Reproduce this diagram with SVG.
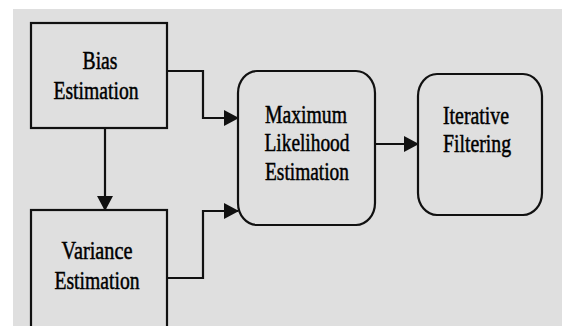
<svg xmlns="http://www.w3.org/2000/svg" width="562" height="326" viewBox="0 0 562 326">
<style>
.box{fill:#dfdfdf;stroke:#111;stroke-width:2.2}
.lbl{font-family:"Liberation Serif","Times New Roman",serif;font-size:25px;fill:#000;stroke:#000;stroke-width:0.5;text-anchor:middle}
.con{fill:none;stroke:#111;stroke-width:2.2}
</style>
<defs>
<marker id="ah" markerUnits="userSpaceOnUse" markerWidth="16" markerHeight="18" refX="14" refY="8" orient="auto">
<path d="M0,0 L15,8 L0,16 Z" fill="#111"/>
</marker>
</defs>
<rect x="0" y="0" width="562" height="326" fill="#ffffff"/>
<rect x="13" y="9" width="549" height="317" fill="#dfdfdf"/>
<g id="connectors">
<path class="con" d="M167,71 H203 V118 H238" marker-end="url(#ah)"/>
<path class="con" d="M167,278 H203 V211 H238" marker-end="url(#ah)"/>
<path class="con" d="M375,144 H418" marker-end="url(#ah)"/>
<path class="con" d="M105,128 V210" marker-end="url(#ah)"/>
</g>
<g id="bias">
<rect class="box" x="31" y="23" width="136" height="105"/>
<text class="lbl" x="100" y="69" textLength="35" lengthAdjust="spacingAndGlyphs">Bias</text>
<text class="lbl" x="96" y="99" textLength="85" lengthAdjust="spacingAndGlyphs">Estimation</text>
</g>
<g id="variance">
<rect class="box" x="31" y="210" width="136" height="130"/>
<text class="lbl" x="97" y="259" textLength="71" lengthAdjust="spacingAndGlyphs">Variance</text>
<text class="lbl" x="97" y="289" textLength="85" lengthAdjust="spacingAndGlyphs">Estimation</text>
</g>
<g id="mle">
<rect class="box" x="238" y="71" width="137" height="154" rx="19" ry="22"/>
<text class="lbl" x="306" y="123" textLength="82" lengthAdjust="spacingAndGlyphs">Maximum</text>
<text class="lbl" x="307" y="151" textLength="85" lengthAdjust="spacingAndGlyphs">Likelihood</text>
<text class="lbl" x="307" y="180" textLength="84" lengthAdjust="spacingAndGlyphs">Estimation</text>
</g>
<g id="iterative">
<rect class="box" x="418" y="74" width="124" height="141" rx="19" ry="22"/>
<text class="lbl" x="476" y="124" textLength="66" lengthAdjust="spacingAndGlyphs">Iterative</text>
<text class="lbl" x="477" y="152" textLength="68" lengthAdjust="spacingAndGlyphs">Filtering</text>
</g>
</svg>
